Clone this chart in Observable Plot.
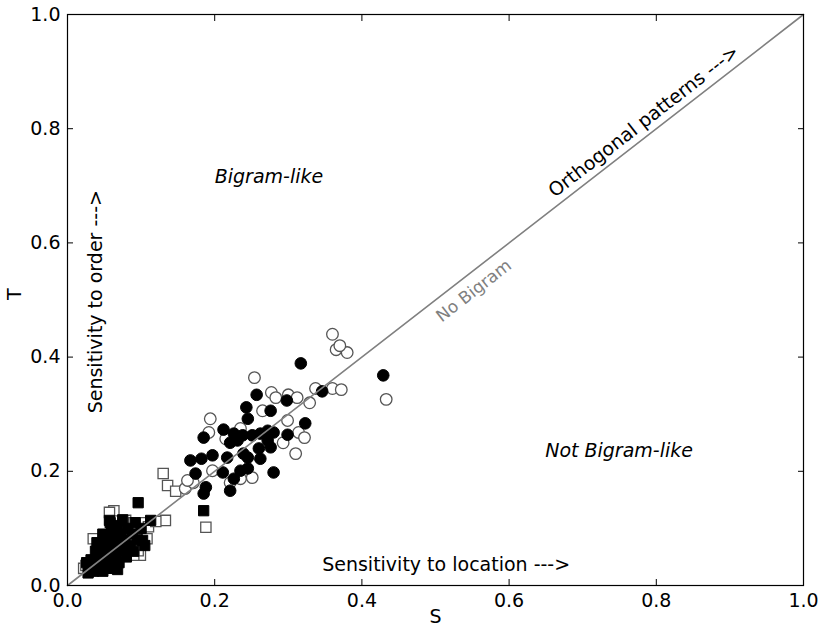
<!DOCTYPE html>
<html>
<head>
<meta charset="utf-8">
<script src="https://cdn.jsdelivr.net/npm/d3@7"></script>
<script src="https://cdn.jsdelivr.net/npm/@observablehq/plot@0.6"></script>
<style>
  html, body { margin: 0; padding: 0; background: #fff; }
  svg { font-family: "DejaVu Sans", sans-serif; }
</style>
</head>
<body>
<div id="chart"></div>
<script>
const ticks = [0, 0.2, 0.4, 0.6, 0.8, 1.0];
const tickLabels = ["0.0", "0.2", "0.4", "0.6", "0.8", "1.0"];

// [S, T] pairs per series
const openSquares = [
  [0.130, 0.196], [0.136, 0.175], [0.147, 0.165], [0.063, 0.131], [0.079, 0.114],
  [0.090, 0.110], [0.102, 0.110], [0.110, 0.103], [0.133, 0.114], [0.188, 0.102],
  [0.035, 0.082], [0.088, 0.079], [0.086, 0.061], [0.099, 0.053], [0.022, 0.030],
  [0.057, 0.128], [0.096, 0.061], [0.090, 0.053], [0.063, 0.039], [0.025, 0.035],
  [0.045, 0.065], [0.108, 0.082], [0.120, 0.112]
];
const filledSquares = [
  [0.030, 0.030], [0.032, 0.045], [0.035, 0.025], [0.038, 0.060], [0.040, 0.040],
  [0.042, 0.030], [0.045, 0.050], [0.045, 0.070], [0.048, 0.025], [0.050, 0.040],
  [0.050, 0.060], [0.052, 0.085], [0.055, 0.030], [0.055, 0.050], [0.058, 0.070],
  [0.060, 0.095], [0.060, 0.040], [0.062, 0.060], [0.065, 0.080], [0.065, 0.050],
  [0.068, 0.105], [0.070, 0.070], [0.070, 0.040], [0.072, 0.090], [0.075, 0.060],
  [0.075, 0.115], [0.078, 0.080], [0.080, 0.050], [0.082, 0.100], [0.085, 0.070],
  [0.088, 0.090], [0.090, 0.060], [0.092, 0.110], [0.095, 0.080], [0.100, 0.100],
  [0.105, 0.070], [0.096, 0.145], [0.113, 0.114], [0.185, 0.131], [0.035, 0.035],
  [0.040, 0.075], [0.058, 0.110], [0.057, 0.114], [0.026, 0.040], [0.079, 0.065],
  [0.102, 0.079], [0.028, 0.022], [0.048, 0.090], [0.068, 0.028]
];
const openCircles = [
  [0.360, 0.440], [0.365, 0.413], [0.380, 0.408], [0.370, 0.420], [0.433, 0.326],
  [0.254, 0.364], [0.277, 0.338], [0.300, 0.334], [0.312, 0.329], [0.329, 0.320],
  [0.337, 0.345], [0.360, 0.345], [0.372, 0.343], [0.283, 0.329], [0.194, 0.292],
  [0.192, 0.268], [0.299, 0.289], [0.314, 0.268], [0.322, 0.259], [0.310, 0.231],
  [0.293, 0.250], [0.251, 0.189], [0.197, 0.201], [0.235, 0.187], [0.221, 0.180],
  [0.160, 0.170], [0.171, 0.180], [0.163, 0.184], [0.265, 0.306], [0.235, 0.275],
  [0.215, 0.257]
];
const filledCircles = [
  [0.317, 0.389], [0.429, 0.368], [0.346, 0.340], [0.323, 0.284], [0.257, 0.334],
  [0.298, 0.324], [0.243, 0.312], [0.276, 0.306], [0.245, 0.292], [0.212, 0.273],
  [0.185, 0.259], [0.226, 0.266], [0.231, 0.254], [0.238, 0.263], [0.251, 0.263],
  [0.262, 0.266], [0.272, 0.271], [0.280, 0.268], [0.272, 0.254], [0.299, 0.264],
  [0.221, 0.250], [0.260, 0.240], [0.276, 0.242], [0.239, 0.231], [0.167, 0.219],
  [0.182, 0.222], [0.197, 0.228], [0.217, 0.224], [0.245, 0.224], [0.262, 0.222],
  [0.280, 0.198], [0.174, 0.196], [0.211, 0.198], [0.235, 0.201], [0.245, 0.205],
  [0.226, 0.187], [0.188, 0.172], [0.185, 0.161], [0.221, 0.166]
];
const diagonal = [[0, 0], [1, 1]];

const openStyle = {stroke: "#555", strokeWidth: 1.3, fill: "white"};
const filledStyle = {stroke: "black", strokeWidth: 1, fill: "black"};

const chart = Plot.plot({
  width: 820,
  height: 633,
  marginLeft: 67,
  marginRight: 17,
  marginTop: 14,
  marginBottom: 48,
  style: {fontFamily: "DejaVu Sans, sans-serif", fontSize: "19px", color: "black", background: "white"},
  x: {domain: [0, 1], label: null},
  y: {domain: [0, 1], label: null},
  marks: [
    Plot.dot(openSquares, {x: d => d[0], y: d => d[1], symbol: "square", r: 5.8, ...openStyle}),
    Plot.dot(openCircles, {x: d => d[0], y: d => d[1], symbol: "circle", r: 5.8, ...openStyle}),
    Plot.dot(filledSquares, {x: d => d[0], y: d => d[1], symbol: "square", r: 5.8, ...filledStyle}),
    Plot.dot(filledCircles, {x: d => d[0], y: d => d[1], symbol: "circle", r: 5.8, ...filledStyle}),
    Plot.line(diagonal, {x: d => d[0], y: d => d[1], stroke: "#808080", strokeWidth: 1.6}),
    Plot.text(["No Bigram"], {x: 0.552, y: 0.516, rotate: -37.8, fill: "#808080", fontSize: 17}),
    Plot.text(["Orthogonal patterns --->"], {x: 0.783, y: 0.813, rotate: -37.8, fill: "black", fontSize: 19}),
    Plot.text(["Bigram-like"], {x: 0.2, y: 0.716, textAnchor: "start", fontStyle: "italic", fontSize: 19}),
    Plot.text(["Not Bigram-like"], {x: 0.649, y: 0.236, textAnchor: "start", fontStyle: "italic", fontSize: 19}),
    Plot.text(["Sensitivity to location --->"], {x: 0.346, y: 0.036, textAnchor: "start", fontSize: 19}),
    Plot.text(["Sensitivity to order --->"], {x: 0.038, y: 0.497, rotate: -90, fontSize: 19}),
    Plot.frame({stroke: "black", strokeWidth: 1.2}),
    Plot.axisX(ticks, {anchor: "bottom", tickSize: 0, tickPadding: 8, tickFormat: (d, i) => tickLabels[i], fontSize: 19, label: null}),
    Plot.axisY(ticks, {anchor: "left", tickSize: 0, tickPadding: 7, tickFormat: (d, i) => tickLabels[i], fontSize: 19, label: null}),
    Plot.axisX(ticks, {anchor: "bottom", tickSize: -6, tickFormat: () => "", label: null}),
    Plot.axisX(ticks, {anchor: "top", tickSize: -6, tickFormat: () => "", label: null}),
    Plot.axisY(ticks, {anchor: "left", tickSize: -6, tickFormat: () => "", label: null}),
    Plot.axisY(ticks, {anchor: "right", tickSize: -6, tickFormat: () => "", label: null}),
    Plot.text(["S"], {frameAnchor: "bottom", dy: 37, fontSize: 19}),
    Plot.text(["T"], {frameAnchor: "left", dx: -53, rotate: -90, fontSize: 19})
  ]
});
document.getElementById("chart").appendChild(chart);
</script>
</body>
</html>
